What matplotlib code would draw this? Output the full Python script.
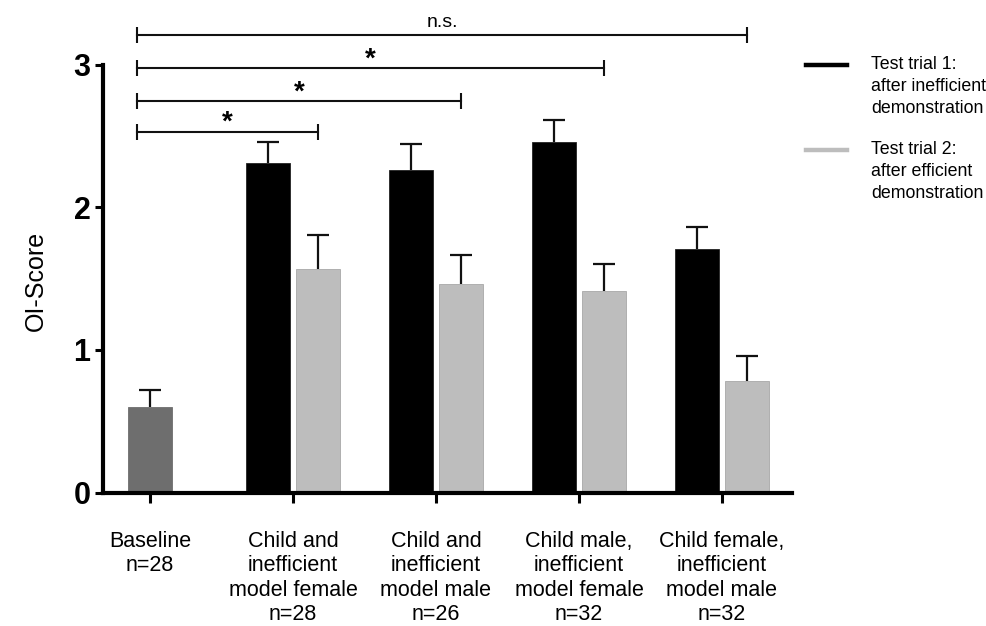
import matplotlib
matplotlib.use("Agg")
import matplotlib.pyplot as plt
from matplotlib.lines import Line2D
import numpy as np

plt.rcParams['font.family'] = ['Liberation Sans', 'DejaVu Sans']

# ---- data ----
categories = ["Baseline\nn=28",
              "Child and\ninefficient\nmodel female\nn=28",
              "Child and\ninefficient\nmodel male\nn=26",
              "Child male,\ninefficient\nmodel female\nn=32",
              "Child female,\ninefficient\nmodel male\nn=32"]
baseline_mean = [0.60]
baseline_err = [0.12]
trial1_mean = [2.31, 2.26, 2.46, 1.71]
trial1_err = [0.15, 0.185, 0.15, 0.155]
trial2_mean = [1.57, 1.46, 1.41, 0.78]
trial2_err = [0.235, 0.205, 0.19, 0.175]
series_labels = ["Test trial 1:\nafter inefficient\ndemonstration",
                 "Test trial 2:\nafter efficient\ndemonstration"]
# significance brackets: (left x, right x, y, label)
brackets = [(-0.09, 1.175, 2.53, "*"),
            (-0.09, 2.175, 2.745, "*"),
            (-0.09, 3.175, 2.975, "*"),
            (-0.09, 4.175, 3.21, "n.s.")]

C_BASE = "#6e6e6e"
C_T1 = "#000000"
C_T2 = "#bdbdbd"

fig = plt.figure(figsize=(9.87, 6.26), dpi=100)
ax = fig.add_axes([103/987, 1-492.5/626, (792-103)/987, (492.5-22)/626])

width = 0.308
off = 0.175
xg = np.arange(1, 5)

def bars(x, h, err, color, ecol="#222222"):
    ax.bar(x, h, width, color=color, edgecolor=ecol, linewidth=0.6, zorder=2)
    eb = ax.errorbar(x, h, yerr=[np.zeros(len(h)), err], fmt='none',
                     ecolor='#111111', elinewidth=1.6, capsize=8, capthick=1.6, zorder=3)
    caps = eb[1]
    if len(caps) >= 2:
        caps[0].set_visible(False)

bars([0], baseline_mean, baseline_err, C_BASE, ecol=C_BASE)
bars(xg - off, trial1_mean, trial1_err, C_T1)
bars(xg + off, trial2_mean, trial2_err, C_T2, ecol="#a8a8a8")

ax.set_xlim(-0.329, 4.49)
ax.set_ylim(0, 3.30)
for s in ['top', 'right']:
    ax.spines[s].set_visible(False)
ax.spines['left'].set_bounds(0, 3)
ax.spines['left'].set_linewidth(3)
ax.spines['bottom'].set_linewidth(3)
ax.set_yticks([0, 1, 2, 3])
ax.set_yticklabels(['0', '1', '2', '3'], fontsize=22, fontweight='bold')
ax.tick_params(axis='y', direction='out', length=6, width=2.2, pad=3)
ax.set_xticks(np.arange(5))
ax.set_xticklabels(categories, fontsize=15.5, linespacing=1.22)
ax.tick_params(axis='x', direction='out', length=7.5, width=2.2, pad=20)

fig.text(36/987, 1-281/626, "OI-Score", rotation=90, ha='center', va='center', fontsize=18)

for x0, x1, y, lab in brackets:
    ax.plot([x0, x1], [y, y], color='#111111', lw=1.5, marker='|', markersize=12,
            mew=1.5, clip_on=False, zorder=4)
    xm = (x0 + x1) / 2
    if lab == "*":
        ax.annotate(lab, (xm, y), xytext=(0, -3), textcoords='offset points',
                    ha='center', va='bottom', fontsize=20, fontweight='bold',
                    annotation_clip=False)
    else:
        ax.annotate(lab, (xm, y), xytext=(0, 3), textcoords='offset points',
                    ha='center', va='bottom', fontsize=14, annotation_clip=False)

# legend (drawn manually to match layout)
for yl, col, lab in [(65, C_T1, series_labels[0]), (150, C_T2, series_labels[1])]:
    fig.add_artist(Line2D([806/987, 847/987], [1-yl/626, 1-yl/626], color=col, lw=3.2,
                          transform=fig.transFigure))
    fig.text(871/987, 1-(yl-9)/626, lab, ha='left', va='top', fontsize=12.8, linespacing=1.4)

fig.savefig("out.png", dpi=100)
